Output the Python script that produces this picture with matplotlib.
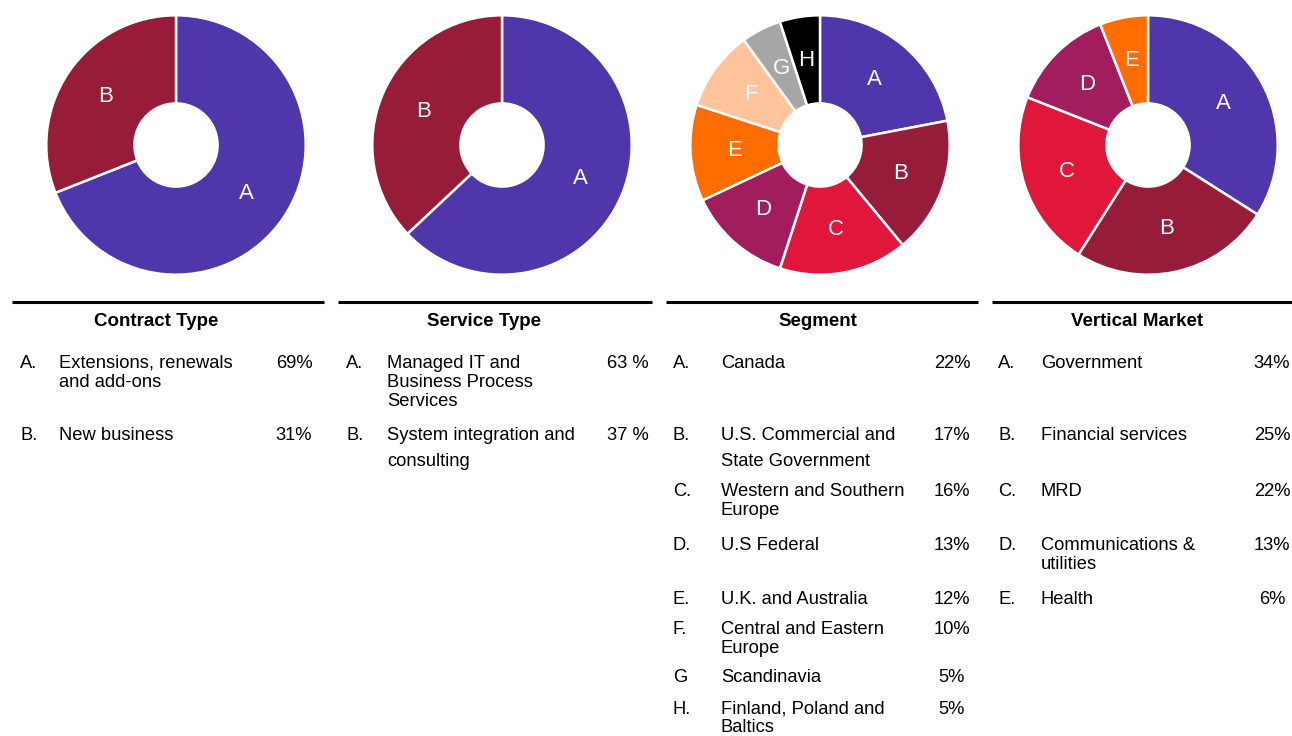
import matplotlib
matplotlib.use("Agg")
import matplotlib.pyplot as plt

plt.rcParams['font.family'] = ['Liberation Sans', 'DejaVu Sans']

W, H = 1292, 736

# colours shared by all four donuts (A, B, C, ...)
colors = ["#4f37ab", "#961c3a", "#e0173a", "#a21d5e", "#ff6c00", "#ffc49b", "#a6a6a6", "#000000"]

# --- data ---
contract_letters = ["A.", "B."]
contract_values = [69, 31]
contract_names = [["Extensions, renewals", "and add-ons"], ["New business"]]
contract_pcts = ["69%", "31%"]

service_letters = ["A.", "B."]
service_values = [63, 37]
service_names = [["Managed IT and", "Business Process", "Services"],
                 ["System integration and", "consulting"]]
service_pcts = ["63 %", "37 %"]

segment_letters = ["A.", "B.", "C.", "D.", "E.", "F.", "G", "H."]
segment_values = [22, 17, 16, 13, 12, 10, 5, 5]
segment_names = [["Canada"], ["U.S. Commercial and", "State Government"],
                 ["Western and Southern", "Europe"], ["U.S Federal"],
                 ["U.K. and Australia"], ["Central and Eastern", "Europe"],
                 ["Scandinavia"], ["Finland, Poland and", "Baltics"]]
segment_pcts = ["22%", "17%", "16%", "13%", "12%", "10%", "5%", "5%"]

vertical_letters = ["A.", "B.", "C.", "D.", "E."]
vertical_values = [34, 25, 22, 13, 6]
vertical_names = [["Government"], ["Financial services"], ["MRD"],
                  ["Communications &", "utilities"], ["Health"]]
vertical_pcts = ["34%", "25%", "22%", "13%", "6%"]

titles = ["Contract Type", "Service Type", "Segment", "Vertical Market"]

# --- layout (pixels) ---
pie_cx = [176, 502, 820, 1148]
pie_cy = 145
pie_r = 131
hole_r = 42

line_x = [(12, 324), (338, 652), (666, 978), (992, 1292)]
line_y = 302
title_x = [156, 484, 818, 1137]
title_y = 322
letter_x = [20, 346, 673, 998]
name_x = [59, 387, 721, 1041]
pct_x = [294, 628, 952, 1272]
row_y = [[362, 434],
         [362, 434],
         [362, 434, 490, 544, 598, 628, 676, 708],
         [362, 434, 490, 544, 598]]
row_gap = [[19, 19],
           [19, 26],
           [19, 26, 19, 19, 19, 19, 19, 18],
           [19, 19, 19, 19, 19]]

panels = [
    (contract_letters, contract_values, contract_names, contract_pcts),
    (service_letters, service_values, service_names, service_pcts),
    (segment_letters, segment_values, segment_names, segment_pcts),
    (vertical_letters, vertical_values, vertical_names, vertical_pcts),
]

body_fs = 13.2

fig = plt.figure(figsize=(W / 100, H / 100), dpi=100)

# overlay axes in pixel coordinates for the tables
tax = fig.add_axes([0, 0, 1, 1])
tax.set_xlim(0, W)
tax.set_ylim(H, 0)
tax.axis("off")

for i, (letters, values, names, pcts) in enumerate(panels):
    # donut
    cx = pie_cx[i]
    pax = fig.add_axes([(cx - pie_r) / W, 1 - (pie_cy + pie_r) / H, 2 * pie_r / W, 2 * pie_r / H])
    labs = [l.rstrip(".") for l in letters]
    wedges, texts = pax.pie(values, labels=labs, colors=colors[:len(values)],
                            startangle=90, counterclock=False, labeldistance=0.66,
                            wedgeprops=dict(width=1 - hole_r / pie_r, edgecolor="white", linewidth=1.8),
                            textprops=dict(color="white", fontsize=16))
    for t in texts:
        t.set_ha("center")
        t.set_va("center")
    pax.set_xlim(-1.01, 1.01)
    pax.set_ylim(-1.01, 1.01)
    pax.axis("off")

    # table
    x0, x1 = line_x[i]
    tax.plot([x0, x1], [line_y, line_y], color="black", linewidth=2.2, solid_capstyle="butt")
    tax.text(title_x[i], title_y, titles[i], ha="center", va="center",
             fontsize=13.5, fontweight="bold")
    for j in range(len(letters)):
        y = row_y[i][j] + 6
        tax.text(letter_x[i], y, letters[j], ha="left", va="baseline", fontsize=body_fs)
        for k, line in enumerate(names[j]):
            tax.text(name_x[i], y + k * row_gap[i][j], line, ha="left", va="baseline", fontsize=body_fs)
        tax.text(pct_x[i], y, pcts[j], ha="center", va="baseline", fontsize=body_fs)

fig.savefig("out.png", dpi=100)
